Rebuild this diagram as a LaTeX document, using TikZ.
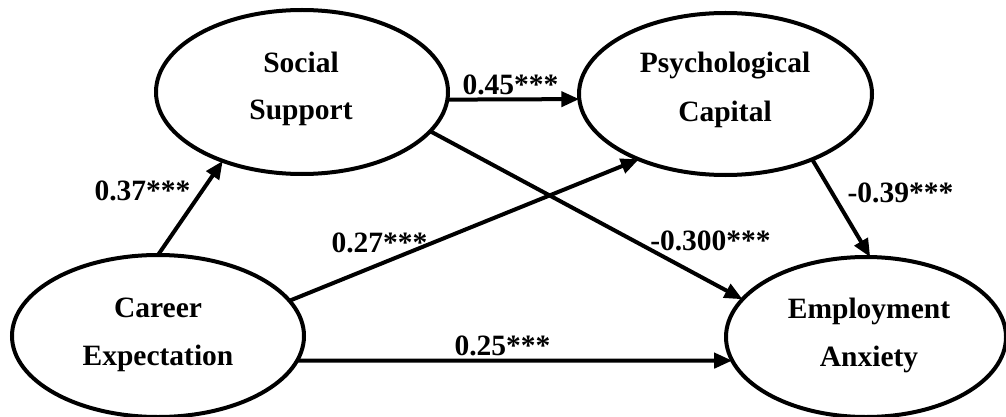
\documentclass[tikz,border=0pt]{standalone}
\usepackage{fontspec}
\setmainfont{Liberation Serif}
\usetikzlibrary{arrows.meta,shapes.geometric}
\tikzset{
  blob/.style={draw=black, line width=4pt, ellipse, inner sep=0pt, outer sep=0pt},
  txt/.style={font=\fontsize{29.5}{36}\selectfont\bfseries, inner sep=0pt, anchor=base},
  lab/.style={font=\fontsize{29.5}{36}\selectfont\bfseries, inner sep=0pt, anchor=base},
  conn/.style={line width=4pt, -{Triangle[length=18pt,width=15pt]}}
}
\begin{document}
\begin{tikzpicture}[x=1pt,y=-1pt]
\useasboundingbox (0,0) rectangle (1006,417);
% ellipses
\node[blob, minimum width=292pt, minimum height=164pt] (ss) at (302,92) {};
\node[blob, minimum width=293pt, minimum height=162pt] (pc) at (725.5,94) {};
\node[blob, minimum width=292pt, minimum height=162pt] (ce) at (158,336) {};
\node[blob, minimum width=280pt, minimum height=160pt] (ea) at (866,337) {};
% texts
\node[txt] (ss1) at (301,73) {Social};
\node[txt] (ss2) at (301,120) {Support};
\node[txt] (pc1) at (725,73) {Psychological};
\node[txt] (pc2) at (725,122) {Capital};
\node[txt] (ce1) at (158,317) {Career};
\node[txt] (ce2) at (158,365) {Expectation};
\node[txt] (ea1) at (869,318) {Employment};
\node[txt] (ea2) at (869,366) {Anxiety};
% connectors
\draw[conn] (ce.90) -- (ss.221.5);
\draw[conn] (ss.-3.15) -- (pc.182.35);
\draw[conn] (ss.-17) -- (ea.163.2);
\draw[conn] (ce.15) -- (pc.217);
\draw[conn] (pc.-37.7) -- (ea.87);
\draw[conn] (ce.-10.65) -- (ea.190.65);
% labels
\node[lab] (l1) at (142.5,200) {0.37***};
\node[lab] (l2) at (510.5,95) {0.45***};
\node[lab] (l3) at (710.5,250) {-0.300***};
\node[lab] (l4) at (379.5,252) {0.27***};
\node[lab] (l5) at (900.5,202) {-0.39***};
\node[lab] (l6) at (502.5,355) {0.25***};
\end{tikzpicture}
\end{document}
